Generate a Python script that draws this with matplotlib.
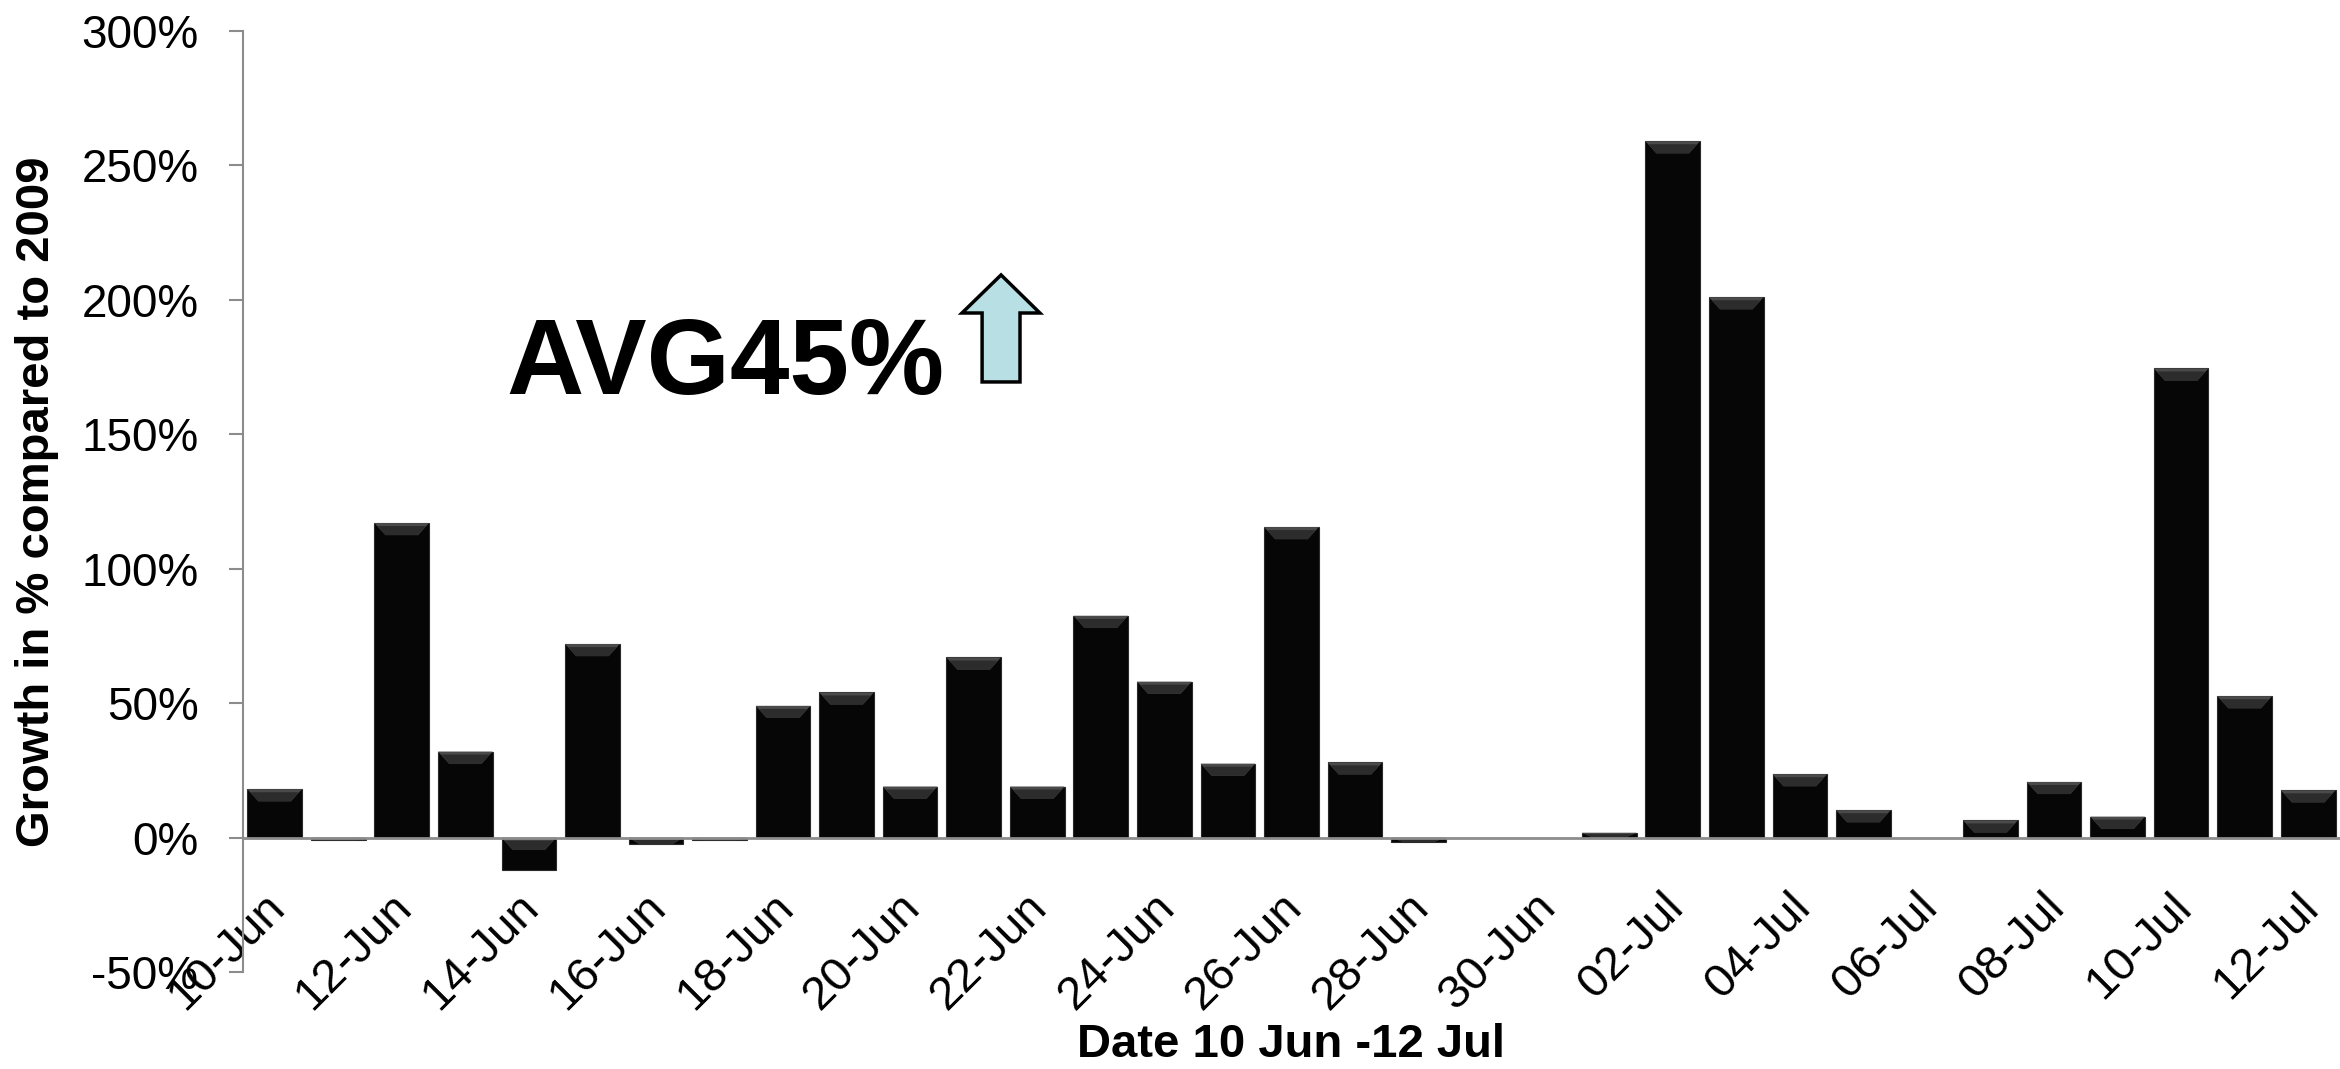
import matplotlib.pyplot as plt
from matplotlib.patches import Polygon
from matplotlib.transforms import ScaledTranslation

# dates 10 Jun - 12 Jul, one bar per day
dates = (
    [f"{d:02d}-Jun" for d in range(10, 31)]
    + [f"{d:02d}-Jul" for d in range(1, 13)]
)
growth = [
    18, -1, 117, 32, -12, 72, -2.5, -1, 49, 54, 19, 67, 19, 82.5, 58, 27.5,
    115.5, 28, -1.5, 0, 0, 1.8, 259, 201, 23.6, 10.2, 0, 6.4, 20.7, 7.8,
    174.5, 52.6, 17.6,
]
yticks = [-50, 0, 50, 100, 150, 200, 250, 300]
avg_text = "AVG45%"

plt.rcParams["font.family"] = ["Liberation Sans", "DejaVu Sans"]

fig = plt.figure(figsize=(23.4, 10.69), dpi=100)
ax = fig.add_axes([0.1038, 0.0907, 0.8962, 0.8803])

xs = list(range(len(dates)))
bars = ax.bar(xs, growth, width=0.86, color="#060606", edgecolor="#2a2a2a",
              linewidth=0.8, zorder=2)

# bevel highlight on top of every bar
for p in bars.patches:
    x0, w = p.get_x(), p.get_width()
    h = p.get_height()
    top = max(p.get_y(), p.get_y() + h)
    band = min(4.5, abs(h))
    if band <= 0:
        continue
    ax.add_patch(Polygon(
        [(x0, top), (x0 + w, top), (x0 + w * 0.8, top - band), (x0 + w * 0.2, top - band)],
        closed=True, color="#4a4a4a", lw=0, zorder=3))
    ax.add_patch(Polygon(
        [(x0 + w * 0.06, top - band * 0.25), (x0 + w * 0.94, top - band * 0.25),
         (x0 + w * 0.8, top - band), (x0 + w * 0.2, top - band)],
        closed=True, color="#2c2c2c", lw=0, zorder=3))

ax.set_xlim(-0.5, len(dates) - 0.5)
ax.set_ylim(-50, 300)
ax.set_yticks(yticks)
ax.set_yticklabels([f"{v}%" for v in yticks])

ax.spines["top"].set_visible(False)
ax.spines["right"].set_visible(False)
ax.spines["left"].set_color("#8c8c8c")
ax.spines["left"].set_linewidth(1.5)
ax.spines["bottom"].set_position(("data", 0))
ax.spines["bottom"].set_color("#8c8c8c")
ax.spines["bottom"].set_linewidth(2)
ax.spines["bottom"].set_zorder(4)

ax.tick_params(axis="y", length=10, width=1.5, color="#8c8c8c", pad=22,
               labelsize=33)
ax.tick_params(axis="x", length=0, pad=34, labelsize=34)

ax.set_xticks(xs[::2])
ax.set_xticklabels(dates[::2], rotation=45, ha="right", va="top")
shift = ScaledTranslation(0.19, 0, fig.dpi_scale_trans)
for lab in ax.get_xticklabels():
    lab.set_transform(lab.get_transform() + shift)

ax.set_xlabel("Date 10 Jun -12 Jul", fontsize=34, fontweight="bold")
ax.xaxis.set_label_coords(0.5, -0.078)
ax.xaxis.label.set_va("center")
ax.set_ylabel("Growth in % compared to 2009", fontsize=34, fontweight="bold")
ax.yaxis.set_label_coords(-0.098, 0.5)
ax.yaxis.label.set_va("center")

ax.text(3.65, 165, avg_text, fontsize=77, fontweight="bold", va="baseline",
        ha="left", zorder=5)

# up arrow next to the average
arrow = Polygon(
    [(0.4278, 0.7428), (0.4444, 0.7072), (0.4359, 0.7072), (0.4359, 0.6427),
     (0.4197, 0.6427), (0.4197, 0.7072), (0.4111, 0.7072)],
    closed=True, transform=fig.transFigure, facecolor="#b8dfe4",
    edgecolor="black", linewidth=2.5, zorder=5)
fig.patches.append(arrow)

fig.savefig("out.png", dpi=100)
